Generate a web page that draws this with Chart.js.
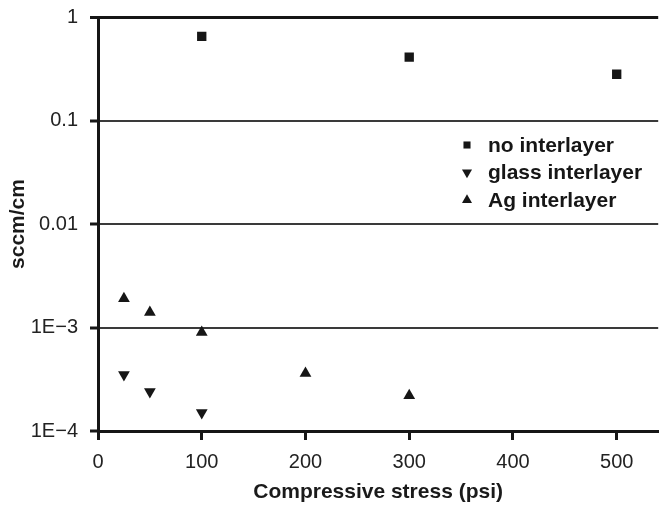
<!DOCTYPE html>
<html>
<head>
<meta charset="utf-8">
<title>Leak rate vs compressive stress</title>
<script src="https://cdn.jsdelivr.net/npm/chart.js@4/dist/chart.umd.min.js"></script>
<style>
  html, body { margin: 0; padding: 0; background: #fff; }
  #wrap { width: 665px; height: 505px; }
</style>
</head>
<body>
<div id="wrap"><canvas id="leakChart" width="665" height="505"></canvas></div>
<script>
// leak rate (sccm/cm) against compressive stress (psi)
const noInterX = [100, 300, 500];
const noInterY = [0.65, 0.41, 0.28];

const glassX = [25, 50, 100];
const glassY = [3.5e-4, 2.4e-4, 1.5e-4];

const agX = [25, 50, 100, 200, 300];
const agY = [1.9e-3, 1.4e-3, 9.0e-4, 3.6e-4, 2.2e-4];

const xTicks = [0, 100, 200, 300, 400, 500];
const yTicks = [1e-4, 1e-3, 0.01, 0.1, 1];
const yTickText = ['1E\u22124', '1E\u22123', '0.01', '0.1', '1'];

const ink = '#161616';
const fontFam = '"Liberation Sans", Arial, sans-serif';

function pairs(xs, ys) {
    return xs.map((x, i) => ({ x: x, y: ys[i] }));
}

// legend drawn inside the plot, right hand side
const insideLegend = {
    id: 'insideLegend',
    afterDraw(chart) {
        const ctx = chart.ctx;
        const x0 = 467, tx = 488, y0 = 145, step = 27.5;
        ctx.save();
        ctx.font = 'bold 21px ' + fontFam;
        ctx.textBaseline = 'middle';
        chart.data.datasets.forEach((ds, i) => {
            const y = y0 + i * step;
            ctx.fillStyle = ink;
            ctx.strokeStyle = ink;
            Chart.helpers.drawPoint(ctx, {
                pointStyle: ds.pointStyle,
                rotation: ds.rotation || 0,
                radius: ds.pointStyle === 'rect' ? 5 : 5.8,
                borderWidth: 0
            }, x0, y);
            ctx.fillText(ds.label, tx, y + 1);
        });
        ctx.restore();
    }
};

const ctx = document.getElementById('leakChart');

new Chart(ctx, {
    type: 'scatter',
    data: {
        datasets: [{
            label: 'no interlayer',
            data: pairs(noInterX, noInterY),
            pointStyle: 'rect',
            pointRadius: 6.6,
            backgroundColor: ink,
            borderColor: ink,
            borderWidth: 0
        }, {
            label: 'glass interlayer',
            data: pairs(glassX, glassY),
            pointStyle: 'triangle',
            rotation: 180,
            pointRadius: 6.8,
            backgroundColor: ink,
            borderColor: ink,
            borderWidth: 0
        }, {
            label: 'Ag interlayer',
            data: pairs(agX, agY),
            pointStyle: 'triangle',
            pointRadius: 6.8,
            backgroundColor: ink,
            borderColor: ink,
            borderWidth: 0
        }]
    },
    options: {
        responsive: false,
        animation: false,
        layout: { padding: { left: 0, right: 2, top: 17, bottom: 0 } },
        plugins: {
            legend: { display: false },
            tooltip: { enabled: false }
        },
        scales: {
            x: {
                type: 'linear',
                min: 0,
                max: 540,
                afterBuildTicks: function(scale) {
                    scale.ticks = xTicks.map(v => ({ value: v }));
                },
                afterFit: function(scale) {
                    scale.height = 74;
                },
                border: { display: true, color: ink, width: 3 },
                grid: {
                    drawOnChartArea: false,
                    drawTicks: true,
                    tickLength: 9,
                    tickWidth: 3,
                    tickColor: ink
                },
                ticks: {
                    color: '#222',
                    padding: 10,
                    maxRotation: 0,
                    font: { family: fontFam, size: 20 }
                },
                title: {
                    display: true,
                    text: 'Compressive stress (psi)',
                    color: '#1a1a1a',
                    padding: { top: -3, bottom: 0 },
                    font: { family: fontFam, size: 21, weight: 'bold' }
                }
            },
            y: {
                type: 'logarithmic',
                min: 1e-4,
                max: 1,
                afterBuildTicks: function(scale) {
                    scale.ticks = yTicks.map(v => ({ value: v }));
                },
                afterFit: function(scale) {
                    scale.width = 98;
                    // keep the label padding from pushing the plot down
                    scale.paddingTop = 0;
                    scale.paddingBottom = 0;
                },
                border: { display: true, color: ink, width: 3 },
                grid: {
                    color: function(c) { return c.tick && c.tick.value === 1 ? ink : '#3a3a3a'; },
                    lineWidth: function(c) { return c.tick && c.tick.value === 1 ? 3 : 2; },
                    drawTicks: true,
                    tickLength: 8,
                    tickWidth: 3,
                    tickColor: ink
                },
                ticks: {
                    color: '#222',
                    padding: 12,
                    font: { family: fontFam, size: 20 },
                    callback: function(value) {
                        const i = yTicks.indexOf(value);
                        return i >= 0 ? yTickText[i] : '';
                    }
                },
                title: {
                    display: true,
                    text: 'sccm/cm',
                    color: '#1a1a1a',
                    padding: { top: 6, bottom: 0 },
                    font: { family: fontFam, size: 21, weight: 'bold' }
                }
            }
        }
    },
    plugins: [insideLegend]
});
</script>
</body>
</html>
